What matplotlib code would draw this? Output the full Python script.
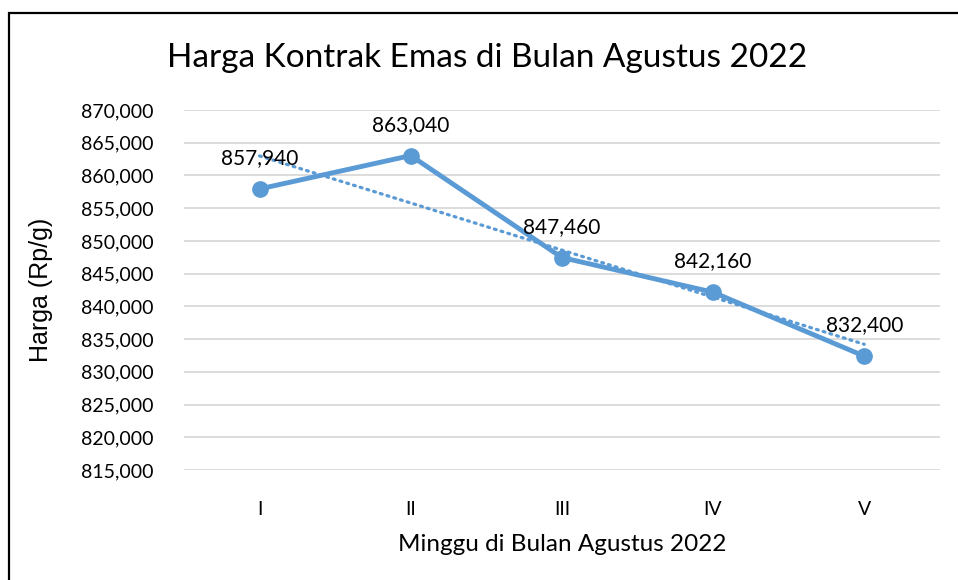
import numpy as np
import matplotlib
matplotlib.use('Agg')
import matplotlib.pyplot as plt
from matplotlib.patches import Rectangle
from matplotlib.ticker import FuncFormatter

# data
minggu = ['I', 'II', 'III', 'IV', 'V']
harga = [857940, 863040, 847460, 842160, 832400]
y_ticks = [815000, 820000, 825000, 830000, 835000, 840000,
           845000, 850000, 855000, 860000, 865000, 870000]

blue = '#5B9BD5'
plt.rcParams['font.family'] = ['Lato', 'DejaVu Sans']

fig = plt.figure(figsize=(9.58, 5.8), dpi=100)
ax = fig.add_axes([0.192, 0.1897, 0.789, 0.6206])

x = np.arange(len(minggu))

# linear trendline (dotted)
k, b = np.polyfit(x, harga, 1)
ax.plot(x, k * x + b, color=blue, lw=2.3, ls=(0, (0.6, 1.6)),
        dash_capstyle='round', zorder=2)

ax.plot(x, harga, color=blue, lw=3.5, marker='o', ms=11,
        solid_joinstyle='round', zorder=3)

for xi, yi in zip(x, harga):
    ax.annotate(f'{yi:,}', (xi, yi), xytext=(0, 15), textcoords='offset points',
                ha='center', va='bottom', fontsize=15, color='#000000')

ax.set_xlim(-0.5, len(minggu) - 0.5)
ax.set_ylim(815000, 870000)
ax.set_yticks(y_ticks)
ax.yaxis.set_major_formatter(FuncFormatter(lambda v, p: f'{int(v):,}'))
ax.set_xticks(x)
ax.set_xticklabels(minggu)
ax.tick_params(axis='both', length=0, labelsize=14, colors='#000000')
ax.tick_params(axis='x', pad=22)
ax.tick_params(axis='y', pad=22)
ax.grid(axis='y', color='#D9D9D9', lw=1.3)
ax.set_axisbelow(True)
for s in ax.spines.values():
    s.set_visible(False)

ax.set_xlabel('Minggu di Bulan Agustus 2022', fontsize=17.5, labelpad=12)
ax.set_ylabel('Harga (Rp/g)', fontsize=18, family=['Liberation Sans'])
ax.yaxis.set_label_coords(-0.173, 0.5)

fig.text(0.508, 0.9, 'Harga Kontrak Emas di Bulan Agustus 2022',
         ha='center', va='center', fontsize=24)

# chart border
fig.patches.append(Rectangle((8.5 / 958, -0.05), 1.1, 1.05 - 12.5 / 580,
                             transform=fig.transFigure, fill=False,
                             ec='black', lw=1.6))

fig.savefig('out.png', dpi=100)
